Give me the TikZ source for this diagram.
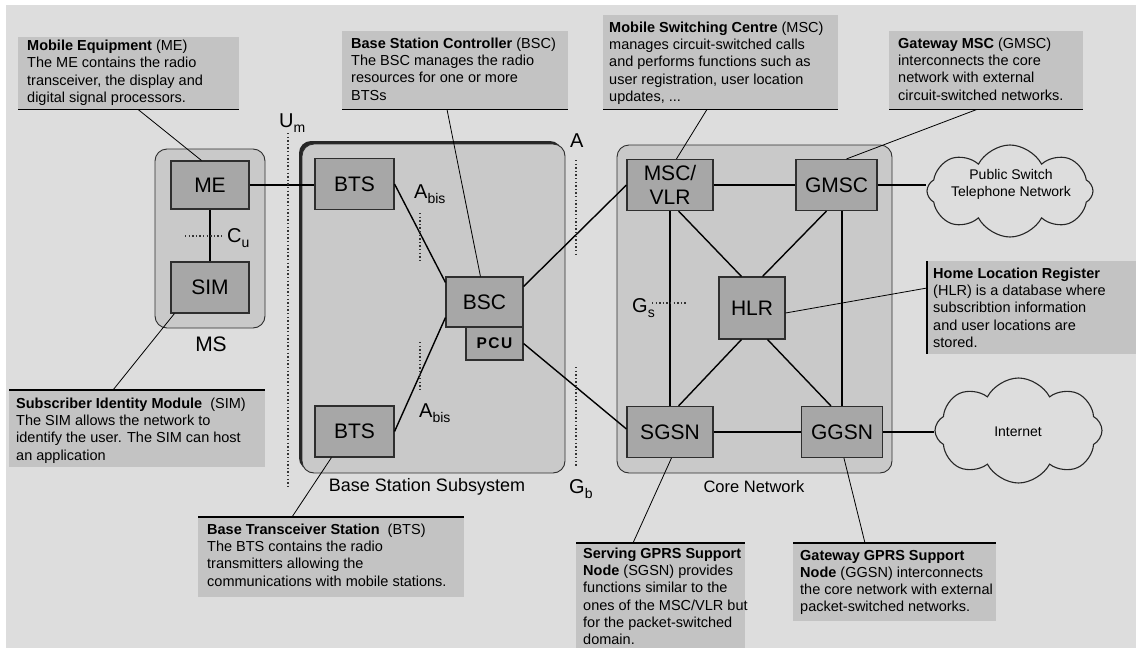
\documentclass[tikz,border=0pt]{standalone}
\usepackage{fontspec}
\setmainfont{Liberation Sans}
\usetikzlibrary{calc,shapes.symbols}

\definecolor{bgc}{HTML}{DDDDDD}
\definecolor{groupc}{HTML}{C9C9C9}
\definecolor{unitc}{HTML}{A7A7A7}
\definecolor{notec}{HTML}{C3C3C3}
\definecolor{edgec}{HTML}{2E2E2E}

% interface name with a lowered index, e.g. A_bis
\newcommand{\ifc}[2]{#1\raisebox{-5pt}{\fontsize{14}{14}\selectfont #2}}

\tikzset{
  group/.style={draw=edgec, line width=0.9pt, fill=groupc, rounded corners=12pt, inner sep=0},
  unit/.style={draw=edgec, line width=1.1pt, fill=unitc, inner sep=0, align=center,
    font=\fontsize{21}{24}\selectfont},
  note/.style={fill=notec, inner sep=0, anchor=north west},
  notetext/.style={anchor=north west, inner sep=0, align=left,
    font=\fontsize{14.5}{17.2}\selectfont},
  noteedge/.style={line width=1.4pt, draw=black},
  link/.style={line width=2pt, draw=black},
  radio/.style={line width=1.4pt, draw=black},
  leader/.style={line width=0.8pt, draw=black},
  iface/.style={dash pattern=on 1.3pt off 2.3pt, line width=1.3pt, draw=black!80},
  ifacelabel/.style={anchor=base west, inner sep=0, font=\fontsize{20}{20}\selectfont},
  grouplabel/.style={inner sep=0},
  netcloud/.style={cloud, cloud puffs=8, cloud puff arc=125, cloud ignores aspect,
    draw=black!85, line width=1.1pt, inner sep=0},
  cloudtext/.style={inner sep=0, align=center, font=\fontsize{14}{17}\selectfont}
}

\begin{document}
\begin{tikzpicture}[x=1pt,y=-1pt]
\useasboundingbox (0,0) rectangle (1136,648);
\fill[white] (0,0) rectangle (1136,648);
\fill[bgc] (6,5) rectangle (1136,648);

% ---------- groups ----------
\node[group, minimum width=110, minimum height=179] (ms) at (210,238.5) {};
\node[group, fill=black!85, draw=none, minimum width=263, minimum height=329] (bss-edge) at (430.5,305.5) {};
\node[group, minimum width=263, minimum height=329] (bss) at (433.5,308.5) {};
\node[group, minimum width=275, minimum height=328] (core) at (754.5,309) {};

\node[grouplabel, font=\fontsize{21}{21}\selectfont] (ms-l) at (211,344) {MS};
\node[grouplabel, font=\fontsize{18}{18}\selectfont] (bss-l) at (427,487) {Base Station Subsystem};
\node[grouplabel, font=\fontsize{16.5}{16.5}\selectfont] (core-l) at (754,487) {Core Network};

% ---------- network elements ----------
\node[unit, minimum width=78, minimum height=48] (me) at (210,185) {ME};
\node[unit, minimum width=78, minimum height=51] (sim) at (210,287.5) {SIM};
\node[unit, minimum width=79, minimum height=51] (bts1) at (354.5,184) {BTS};
\node[unit, minimum width=79, minimum height=51] (bts2) at (354.5,431.5) {BTS};
\node[unit, minimum width=77, minimum height=50] (bsc) at (484.5,302) {BSC};
\node[unit, minimum width=57, minimum height=33, font=\bfseries\fontsize{15.5}{15.5}\selectfont] (pcu) at (494.5,343.5) {P\kern1.5pt C\kern1.5pt U};
\node[unit, minimum width=86, minimum height=51] (msc) at (670,185) {MSC/\\VLR};
\node[unit, minimum width=81, minimum height=51] (gmsc) at (836.5,185) {GMSC};
\node[unit, minimum width=66, minimum height=62] (hlr) at (752,308) {HLR};
\node[unit, minimum width=86, minimum height=51] (sgsn) at (670,432) {SGSN};
\node[unit, minimum width=81, minimum height=51] (ggsn) at (842,432) {GGSN};

% ---------- external networks ----------
\node[netcloud, minimum width=166, minimum height=92] (pstn) at (1010,191) {};
\node[cloudtext] (pstn-t) at (1011,184) {Public Switch\\Telephone Network};
\node[netcloud, minimum width=167, minimum height=105] (inet) at (1018.5,430.5) {};
\node[cloudtext] (inet-t) at (1018,432) {Internet};

% ---------- links ----------
\draw[radio] (me.east) -- (me.east -| bts1.west);
\draw[radio] (me.south) -- (sim.north);
\draw[radio] (bts1.east) -- ($(bsc.north west)+(0,6)$);
\draw[radio] (bts2.east) -- ($(bsc.south west)+(0,-10)$);
\draw[radio] ($(bsc.north east)+(0,10)$) -- (msc.west);
\draw[radio] (pcu.east) -- ($(sgsn.west)+(0,-3)$);
\draw[link] (msc.east) -- (gmsc.west);
\draw[link] (sgsn.east) -- (ggsn.west);
\draw[link] (msc.south) -- (sgsn.north);
\draw[link] (gmsc.south -| ggsn.north) -- (ggsn.north);
\draw[radio] ($(msc.south east)+(-35,0)$) -- ($(hlr.north west)+(23,0)$);
\draw[radio] ($(gmsc.south west)+(31,0)$) -- ($(hlr.north east)+(-23,0)$);
\draw[radio] ($(sgsn.north east)+(-35,0)$) -- ($(hlr.south west)+(23,0)$);
\draw[radio] ($(ggsn.north west)+(30,0)$) -- ($(hlr.south east)+(-18,0)$);
\draw[link] (gmsc.east) -- (gmsc.east -| pstn.west);
\draw[link] (ggsn.east) -- (ggsn.east -| inet.west);

% ---------- interfaces ----------
\coordinate (um-top) at (288,133);   \coordinate (um-bot) at (288,487);
\coordinate (a-top) at (576,160);    \coordinate (a-bot) at (576,257);
\coordinate (gb-top) at (576,367);   \coordinate (gb-bot) at (576,467);
\coordinate (ab1-top) at (420,213);  \coordinate (ab1-bot) at (420,262);
\coordinate (ab2-top) at (420,342);  \coordinate (ab2-bot) at (420,392);
\coordinate (cu-a) at (185,236);     \coordinate (cu-b) at (222,236);
\coordinate (gs-a) at (652,303);     \coordinate (gs-b) at (687,303);
\draw[iface] (um-top) -- (um-bot);
\draw[iface] (a-top) -- (a-bot);
\draw[iface] (gb-top) -- (gb-bot);
\draw[iface] (ab1-top) -- (ab1-bot);
\draw[iface] (ab2-top) -- (ab2-bot);
\draw[iface] (cu-a) -- (cu-b);
\draw[iface] (gs-a) -- (gs-b);

\node[ifacelabel] (um-l) at (279,127) {\ifc{U}{m}};
\node[ifacelabel] (a-l) at (570,147) {A};
\node[ifacelabel] (gb-l) at (569,493) {\ifc{G}{b}};
\node[ifacelabel] (ab1-l) at (414,198) {\ifc{A}{bis}};
\node[ifacelabel] (ab2-l) at (419,417) {\ifc{A}{bis}};
\node[ifacelabel] (cu-l) at (227,242) {\ifc{C}{u}};
\node[ifacelabel] (gs-l) at (632,312) {\ifc{G}{s}};

% ---------- explanatory notes ----------
\node[note, minimum width=221, minimum height=72] (cme) at (18,37) {};
\node[notetext] (cme-t) at ($(cme.north west)+(9,3)$) {\textbf{Mobile Equipment} (ME)\\The ME contains the radio\\transceiver, the display and\\digital signal processors.};
\draw[noteedge] (cme.south west) -- (cme.south east);

\node[note, minimum width=226, minimum height=78] (cbsc) at (342,31) {};
\node[notetext] (cbsc-t) at ($(cbsc.north west)+(9,6.7)$) {\textbf{Base Station Controller} (BSC)\\The BSC manages the radio\\resources for one or more\\BTSs};
\draw[noteedge] (cbsc.south west) -- (cbsc.south east);

\node[note, minimum width=235, minimum height=94] (cmsc) at (603,15) {};
\node[notetext] (cmsc-t) at ($(cmsc.north west)+(6,6.7)$) {\textbf{Mobile Switching Centre} (MSC)\\manages circuit-switched calls\\and performs functions such as\\user registration, user location\\updates, ...};
\draw[noteedge] (cmsc.south west) -- (cmsc.south east);

\node[note, minimum width=194, minimum height=78] (cgmsc) at (889,31) {};
\node[notetext] (cgmsc-t) at ($(cgmsc.north west)+(9,6.7)$) {\textbf{Gateway MSC} (GMSC)\\interconnects the core\\network with external\\circuit-switched networks.};
\draw[noteedge] (cgmsc.south west) -- (cgmsc.south east);

\node[note, minimum width=209, minimum height=93] (chlr) at (927,261) {};
\node[notetext] (chlr-t) at ($(chlr.north west)+(6,6.7)$) {\textbf{Home Location Register}\\(HLR) is a database where\\subscribtion information\\and user locations are\\stored.};
\draw[noteedge] (chlr.north west) -- (chlr.south west);

\node[note, minimum width=256, minimum height=77] (csim) at (9,390) {};
\node[notetext] (csim-t) at ($(csim.north west)+(7,7.7)$) {\textbf{Subscriber Identity Module}\ \ (SIM)\\The SIM allows the network to\\identify the user. The SIM can host\\an application};
\draw[noteedge] (csim.north west) -- (csim.north east);

\node[note, minimum width=266, minimum height=80] (cbts) at (198,517) {};
\node[notetext] (cbts-t) at ($(cbts.north west)+(9,6.7)$) {\textbf{Base Transceiver Station}\ \ (BTS)\\The BTS contains the radio\\transmitters allowing the\\communications with mobile stations.};
\draw[noteedge] (cbts.north west) -- (cbts.north east);

\node[note, minimum width=169, minimum height=105] (csgsn) at (576,543) {};
\node[notetext] (csgsn-t) at ($(csgsn.north west)+(7,4.7)$) {\textbf{Serving GPRS Support}\\\textbf{Node} (SGSN) provides\\functions similar to the\\ones of the MSC/VLR but\\for the packet-switched\\domain.};
\draw[noteedge] (csgsn.north west) -- (csgsn.north east);

\node[note, minimum width=203, minimum height=78] (cggsn) at (793,543) {};
\node[notetext] (cggsn-t) at ($(cggsn.north west)+(7,6.7)$) {\textbf{Gateway GPRS Support}\\\textbf{Node} (GGSN) interconnects\\the core network with external\\packet-switched networks.};
\draw[noteedge] (cggsn.north west) -- (cggsn.north east);

% ---------- leaders from notes to elements ----------
\draw[leader] ($(cme.south west)+(120,0)$) -- ($(me.north west)+(31,0)$);
\draw[leader] ($(cbsc.south west)+(105,0)$) -- ($(bsc.north west)+(35,0)$);
\draw[leader] ($(cmsc.south west)+(104,0)$) -- ($(msc.north west)+(50,0)$);
\draw[leader] ($(cgmsc.south west)+(88,0)$) -- ($(gmsc.north west)+(51,0)$);
\draw[leader] ($(chlr.north west)+(0,27)$) -- ($(hlr.east)+(0,5)$);
\draw[leader] ($(csim.north west)+(104,0)$) -- ($(sim.south west)+(4,0)$);
\draw[leader] ($(cbts.north west)+(94,0)$) -- ($(bts2.south west)+(17,0)$);
\draw[leader] ($(csgsn.north west)+(57,0)$) -- ($(sgsn.south west)+(45,0)$);
\draw[leader] ($(cggsn.north west)+(72,0)$) -- ($(ggsn.south west)+(43,0)$);
\end{tikzpicture}
\end{document}
